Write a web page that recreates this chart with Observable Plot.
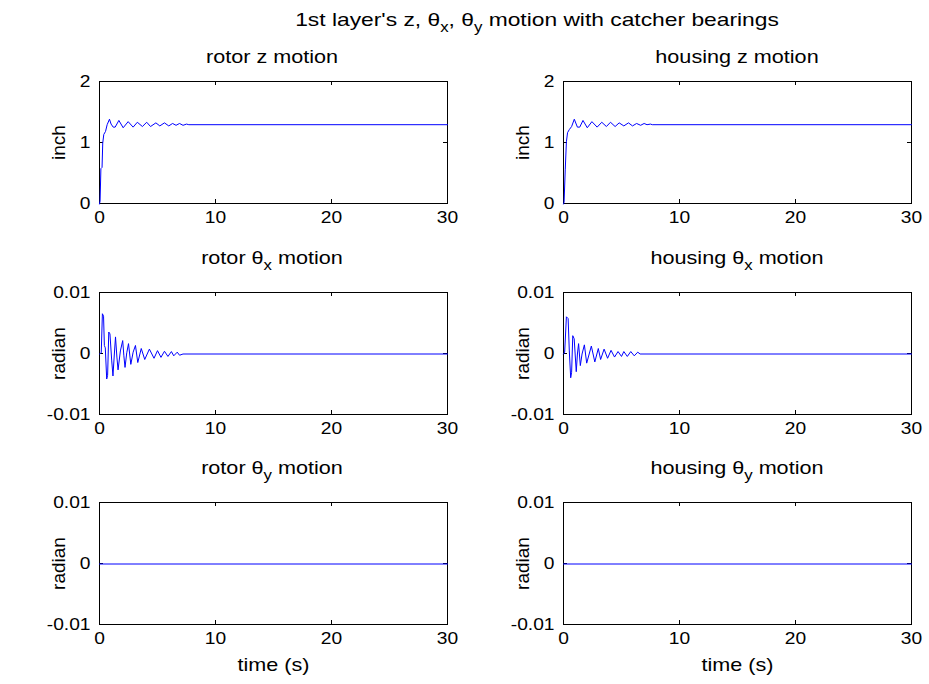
<!DOCTYPE html>
<html><head><meta charset="utf-8">
<script src="https://cdn.jsdelivr.net/npm/d3@7"></script>
<script src="https://cdn.jsdelivr.net/npm/@observablehq/plot@0.6"></script>
<style>
body{margin:0;background:#fff;}
#fig{position:relative;width:929px;height:684px;background:#fff;font-family:"Liberation Sans",Arial,Helvetica,sans-serif;color:#000;overflow:hidden}
.t{position:absolute;font-size:18px;white-space:nowrap;transform:translate(-50%,-50%) scaleX(1.2);line-height:1}
.t.main{font-size:19px}
.t sub{font-size:14px;vertical-align:-6px;line-height:0}
#fig svg{position:absolute;overflow:visible}
</style></head><body><div id="fig"></div>
<script>
// ---- data ----
const xTicks = [0, 10, 20, 30];
const zTicks = [0, 1, 2];
const angTicks = [-0.01, 0, 0.01];

const rotorZ_t = [0,0.05,0.12,0.22,0.28,0.37,0.52,0.66,0.86,1.0,1.18,1.35,1.67,2.04,2.47,2.9,3.26,3.7,4.07,4.4,4.86,5.2,5.6,5.97,6.3,6.6,6.9,7.2,7.5,7.7,30];
const rotorZ_v = [0,0.05,0.58,0.6,1.0,1.14,1.19,1.3,1.39,1.31,1.26,1.26,1.37,1.25,1.35,1.26,1.34,1.27,1.34,1.27,1.33,1.28,1.33,1.28,1.32,1.29,1.32,1.29,1.31,1.30,1.30];

const housingZ_t = [0,0.05,0.15,0.25,0.35,0.5,0.7,0.93,1.2,1.4,1.68,2.05,2.45,2.9,3.3,3.7,4.05,4.45,4.8,5.2,5.6,5.95,6.3,6.65,6.95,7.2,7.5,7.65,30];
const housingZ_v = [0,0.03,0.56,1.02,1.17,1.22,1.27,1.39,1.26,1.26,1.37,1.25,1.35,1.26,1.34,1.27,1.34,1.27,1.33,1.28,1.33,1.28,1.32,1.29,1.32,1.30,1.31,1.30,1.30];

const rotorTx_t = [0,0.15,0.25,0.35,0.42,0.5,0.62,0.7,0.8,0.9,1.05,1.16,1.28,1.38,1.5,1.6,1.8,2.0,2.1,2.2,2.35,2.5,2.6,2.7,2.9,3.1,3.3,3.6,3.9,4.3,4.7,5.0,5.3,5.6,5.9,6.2,6.4,6.7,6.9,7.2,30];
const rotorTx_v = [0,0.0002,0.0066,0.0062,0.0014,0.0010,-0.0041,-0.0035,0.0036,0.0033,-0.0010,-0.0036,0.0,0.0028,-0.0005,-0.0026,0.0005,0.0022,-0.0003,-0.0022,0.0002,0.0017,0.0,-0.0017,0.0003,0.0014,-0.0014,0.0009,-0.0009,0.0008,-0.0007,0.00055,-0.00055,0.00045,-0.0004,0.0004,-0.0003,0.0003,-0.0002,0,0];

const housingTx_t = [0,0.1,0.25,0.4,0.5,0.62,0.7,0.8,0.92,1.1,1.2,1.3,1.45,1.6,1.8,2.0,2.4,2.7,3.0,3.2,3.5,3.8,4.1,4.4,4.7,5.0,5.2,5.5,5.8,6.1,6.4,6.6,30];
const housingTx_v = [0,0.0003,0.0061,0.0058,0.0005,-0.0039,-0.003,0.003,0.0025,-0.0029,0.0,0.0017,-0.0019,0,0.0015,-0.0015,0.0013,-0.0013,0.0009,-0.0009,0.0008,-0.0007,0.0006,-0.0005,0.0004,-0.0004,0.0004,-0.0004,0.0004,-0.0003,0.0003,0,0];

const rotorTy_t = [0, 30];
const rotorTy_v = [0, 0];
const housingTy_t = [0, 30];
const housingTy_v = [0, 0];

// ---- layout ----
const fig = document.getElementById("fig");
const FONT = '"Liberation Sans", Arial, Helvetica, sans-serif';
const PW = 348, PH = 122;
const STRETCH = " scale(1.2,1)";

function fmtY(d){ return d === 0 ? "0" : String(d); }

function panel(tArr, vArr, yDomain, yTicks, yLabel, xLabel, svgLeft, mL, panelTop) {
  const mT = 10, mB = 70, mR = 20;
  const data = tArr.map((t, i) => ({t, v: vArr[i]}));
  const p = Plot.plot({
    width: mL + PW + mR,
    height: mT + PH + mB,
    marginLeft: mL, marginRight: mR, marginTop: mT, marginBottom: mB,
    style: {fontFamily: FONT, fontSize: "16px", background: "transparent", color: "#000", overflow: "visible"},
    x: {domain: [0, 30]},
    y: {domain: yDomain},
    marks: [
      Plot.frame({stroke: "#000", strokeWidth: 1}),
      Plot.tickX(xTicks, {x: d => d, stroke: "#000", insetTop: PH - 4}),
      Plot.tickX(xTicks, {x: d => d, stroke: "#000", insetBottom: PH - 4}),
      Plot.tickY(yTicks, {y: d => d, stroke: "#000", insetRight: PW - 4}),
      Plot.tickY(yTicks, {y: d => d, stroke: "#000", insetLeft: PW - 4}),
      Plot.axisX(xTicks, {tickSize: 0, tickPadding: 8, tickFormat: d => String(d), fontSize: 16,
        label: xLabel, labelAnchor: "center", labelArrow: "none", labelOffset: 46}),
      Plot.axisY(yTicks, {tickSize: 0, tickPadding: 9, tickFormat: fmtY, fontSize: 16,
        label: yLabel, labelAnchor: "center", labelArrow: "none", labelOffset: 48}),
      Plot.line(data, {x: "t", y: "v", stroke: "#0000ff", strokeWidth: 1, dy: 0.5})
    ]
  });
  // the reference text is drawn horizontally wider than plain Helvetica
  p.querySelectorAll('g[aria-label="x-axis tick label"] text, g[aria-label="y-axis tick label"] text, g[aria-label="x-axis label"] text')
    .forEach(t => t.setAttribute("transform", (t.getAttribute("transform") || "") + STRETCH));
  p.querySelectorAll('g[aria-label="x-axis label"]')
    .forEach(g => { g.setAttribute("font-size", 18); g.querySelectorAll("text").forEach(t => t.setAttribute("font-size", 18)); });
  p.querySelectorAll('g[aria-label="y-axis label"]')
    .forEach(g => { g.setAttribute("font-size", 19); g.querySelectorAll("text").forEach(t => t.setAttribute("font-size", 19)); });
  p.style.left = svgLeft + "px";
  p.style.top = (panelTop - mT) + "px";
  fig.appendChild(p);
}

const tops = [81, 292, 502];
panel(rotorZ_t, rotorZ_v, [0, 2], zTicks, "inch", null, 0, 99, tops[0]);
panel(housingZ_t, housingZ_v, [0, 2], zTicks, "inch", null, 465, 98, tops[0]);
panel(rotorTx_t, rotorTx_v, [-0.01, 0.01], angTicks, "radian", null, 0, 99, tops[1]);
panel(housingTx_t, housingTx_v, [-0.01, 0.01], angTicks, "radian", null, 465, 98, tops[1]);
panel(rotorTy_t, rotorTy_v, [-0.01, 0.01], angTicks, "radian", "time (s)", 0, 99, tops[2]);
panel(housingTy_t, housingTy_v, [-0.01, 0.01], angTicks, "radian", "time (s)", 465, 98, tops[2]);

// ---- titles ----
function title(html, x, y, cls) {
  const d = document.createElement("div");
  d.className = "t" + (cls ? " " + cls : "");
  d.innerHTML = html;
  d.style.left = x + "px";
  d.style.top = y + "px";
  fig.appendChild(d);
}
title("1st layer's z, θ<sub>x</sub>, θ<sub>y</sub> motion with catcher bearings", 537, 19, "main");
title("rotor z motion", 272, 57);
title("housing z motion", 737, 57);
title("rotor θ<sub>x</sub> motion", 272, 258);
title("housing θ<sub>x</sub> motion", 737, 258);
title("rotor θ<sub>y</sub> motion", 272, 468);
title("housing θ<sub>y</sub> motion", 737, 468);
</script>
</body></html>
